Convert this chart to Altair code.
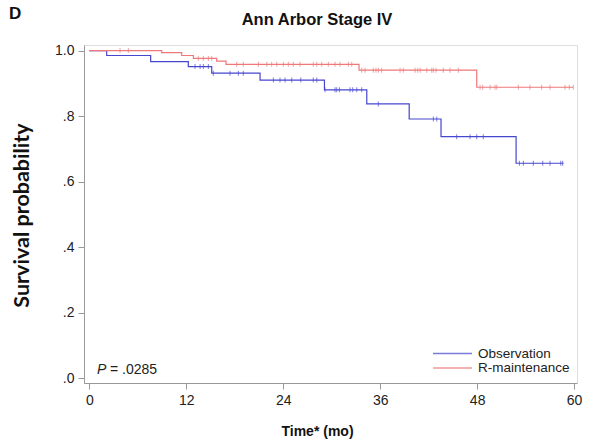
import altair as alt
import pandas as pd

# ---- data ----
series_names = ["Observation", "R-maintenance"]

obs_times = [0, 2.15, 7.59, 12.25, 15.15, 21.13, 29.1, 34.34, 39.59, 43.53, 52.82, 58.68]
obs_surv = [1.0, 0.985, 0.966, 0.951, 0.931, 0.910, 0.880, 0.837, 0.791, 0.737, 0.656, 0.656]

rm_times = [0, 8.96, 11.43, 12.88, 15.76, 16.92, 33.38, 47.95, 59.89]
rm_surv = [1.0, 0.994, 0.985, 0.976, 0.968, 0.958, 0.940, 0.888, 0.888]

obs_censor = [13.08, 13.71, 14.11, 14.73, 15.35, 17.41, 18.44, 19.06, 22.78, 23.6, 24.22,
              25.05, 26.17, 27.72, 28.15, 29.17, 30.41, 30.62, 30.95, 32.27, 32.6, 33.1,
              33.71, 35.77, 42.58, 43.0, 45.47, 47.12, 47.95, 48.76, 53.23, 53.72, 54.95,
              56.12, 57.02, 58.35, 58.59]
rm_censor = [3.8, 4.83, 13.49, 14.11, 14.73, 15.15, 18.24, 19.06, 20.92, 21.96, 22.57, 23.2,
             24.01, 24.63, 25.25, 26.08, 27.72, 28.15, 28.76, 29.58, 30.41, 31.03, 32.06,
             32.48, 33.71, 34.13, 35.15, 35.48, 35.77, 36.19, 38.46, 38.86, 40.32, 40.65,
             40.95, 41.76, 42.38, 42.58, 42.91, 43.81, 44.64, 45.67, 48.36, 48.69, 49.6,
             50.22, 50.43, 53.1, 54.54, 55.99, 57.02, 58.88, 59.41, 59.9]

x_ticks = [0, 12, 24, 36, 48, 60]
y_ticks = [0, 0.2, 0.4, 0.6, 0.8, 1.0]
p_value_text = "= .0285"
title_text = "Ann Arbor Stage IV"
panel_label = "D"

BLUE = "#4646cf"
RED = "#f07878"
LEG_BLUE = "#7a7ad8"
LEG_RED = "#f29a9a"
FONT = "Liberation Sans"


def surv_at(times, surv, t):
    v = surv[0]
    for ti, si in zip(times, surv):
        if ti <= t:
            v = si
    return v


curves = pd.concat([
    pd.DataFrame({"time": obs_times, "surv": obs_surv, "group": series_names[0]}),
    pd.DataFrame({"time": rm_times, "surv": rm_surv, "group": series_names[1]}),
])
censors = pd.concat([
    pd.DataFrame({"time": obs_censor,
                  "surv": [surv_at(obs_times, obs_surv, t) for t in obs_censor],
                  "group": series_names[0]}),
    pd.DataFrame({"time": rm_censor,
                  "surv": [surv_at(rm_times, rm_surv, t) for t in rm_censor],
                  "group": series_names[1]}),
])

color = alt.Color("group:N", scale=alt.Scale(domain=series_names, range=[BLUE, RED]), legend=None)

xscale = alt.Scale(domain=[-0.66, 60.36], nice=False, zero=False)
yscale = alt.Scale(domain=[-0.015, 1.017], nice=False, zero=False)

xaxis = alt.Axis(values=x_ticks, title="Time* (mo)", grid=False, tickSize=6, labelPadding=4,
                 labelFontSize=14, labelFont=FONT, labelColor="#222", domainColor="#999",
                 tickColor="#999", titleFont=FONT, titleFontSize=14, titleFontWeight="bold",
                 titleColor="#111", titleX=233, titleY=48, titleBaseline="middle",
                 titleAnchor="middle")
yaxis = alt.Axis(values=y_ticks, title="Survival probability", grid=False, tickSize=6,
                 labelPadding=4, labelFontSize=14, labelFont=FONT, labelColor="#222",
                 labelExpr="datum.value == 1 ? '1.0' : replace(format(datum.value, '.1f'), '0.', '.')",
                 domainColor="#999", tickColor="#999", titleFont="Lato", titleFontSize=21.5,
                 titleFontWeight="bold", titleColor="#111", titleAngle=270, titleX=-62,
                 titleY=170, titleBaseline="middle", titleAlign="center")

lines = alt.Chart(curves).mark_line(interpolate="step-after", strokeWidth=1.2).encode(
    x=alt.X("time:Q", scale=xscale, axis=xaxis),
    y=alt.Y("surv:Q", scale=yscale, axis=yaxis),
    color=color,
    detail="group:N",
)
ticks = alt.Chart(censors).mark_tick(orient="vertical", size=5, thickness=1).encode(
    x=alt.X("time:Q", scale=xscale),
    y=alt.Y("surv:Q", scale=yscale),
    color=color,
)

one = pd.DataFrame({"a": [0]})


def txt(text, x, y, size=14, weight="normal", style="normal", align="left", col="#222"):
    return alt.Chart(one).mark_text(text=text, align=align, baseline="middle", font=FONT,
                                    fontSize=size, fontWeight=weight, fontStyle=style).encode(
        x=alt.value(x), y=alt.value(y), color=alt.value(col))


leg1 = alt.Chart(one).mark_rule(strokeWidth=1.3).encode(
    x=alt.value(349), x2=alt.value(388), y=alt.value(308.5), color=alt.value(LEG_BLUE))
leg2 = alt.Chart(one).mark_rule(strokeWidth=1.3).encode(
    x=alt.value(349), x2=alt.value(388), y=alt.value(323), color=alt.value(LEG_RED))
legt1 = txt(series_names[0], 394, 308.5, size=13.5)
legt2 = txt(series_names[1], 394, 323, size=13.5)
ptxt1 = txt("P", 13, 325, style="italic")
ptxt2 = txt(p_value_text, 26, 325)
dlabel = txt(panel_label, -75, -31, size=17, weight="bold", col="#111")
title = txt(title_text, 233, -25, size=16.5, weight="bold", align="center", col="#111")

chart = alt.layer(lines, ticks, leg1, leg2, legt1, legt2, ptxt1, ptxt2, dlabel, title).properties(
    width=493,
    height=338,
    autosize=alt.AutoSizeParams(type="none"),
    padding={"left": 84, "top": 45, "right": 14, "bottom": 62},
).configure_view(stroke=None).configure(background="white")

chart.save("out.html", embed_options={"renderer": "svg", "actions": False})
